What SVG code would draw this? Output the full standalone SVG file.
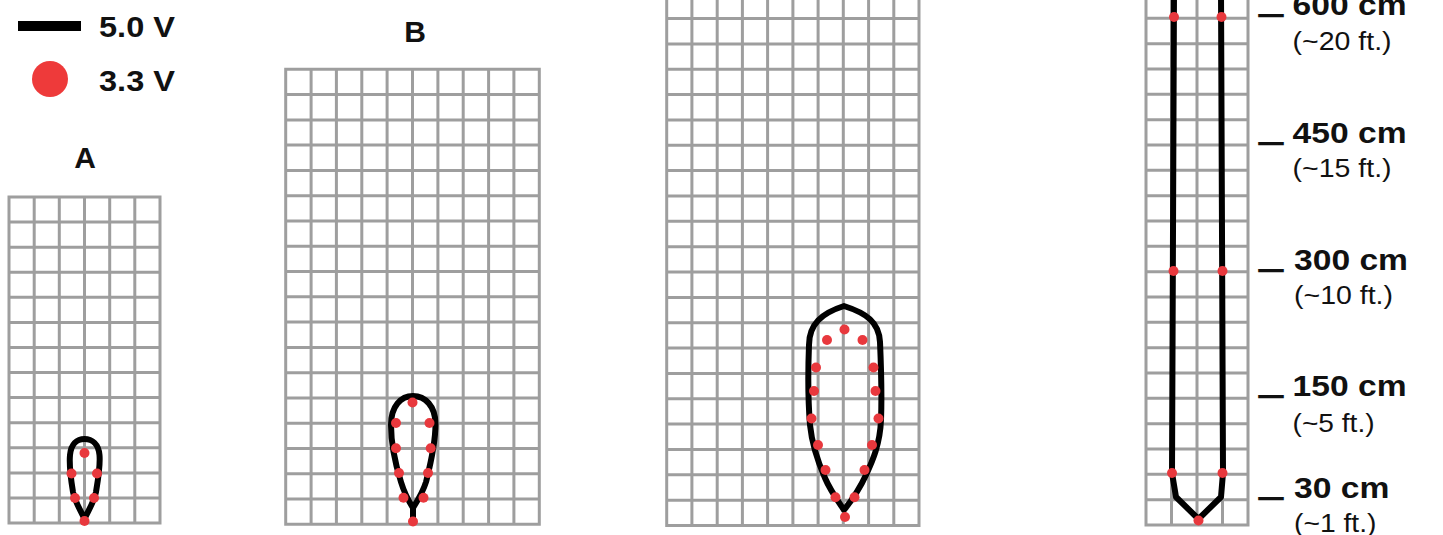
<svg xmlns="http://www.w3.org/2000/svg" width="1443" height="535" viewBox="0 0 1443 535">
<style>
.grid{fill:none;stroke:#9e9e9e;stroke-width:3;stroke-linecap:square}
.wire{fill:none;stroke:#000;stroke-width:6;stroke-linejoin:round;stroke-linecap:round}
.dot{fill:#e8383d}
.b{font-family:"Liberation Sans",Arial,sans-serif;font-weight:bold;font-size:30px;fill:#111}
.u{font-family:"Liberation Sans",Arial,sans-serif;font-weight:bold;font-size:30px;fill:#111;stroke:#111;stroke-width:2.2}
.r{font-family:"Liberation Sans",Arial,sans-serif;font-size:25px;fill:#111}
</style>
<rect width="1443" height="535" fill="#fff"/>
<g id="legend">
<rect x="18" y="21" width="63" height="10" fill="#000"/>
<text class="b" x="99" y="37" textLength="76" lengthAdjust="spacingAndGlyphs">5.0 V</text>
<circle cx="50" cy="79" r="18" fill="#ee3a3a"/>
<text class="b" x="99" y="91" textLength="76" lengthAdjust="spacingAndGlyphs">3.3 V</text>
</g>
<g id="panel-a">
<text class="b" x="85" y="168" text-anchor="middle">A</text>
<path class="grid" d="M9,197V523M34.2,197V523M59.3,197V523M84.5,197V523M109.7,197V523M134.8,197V523M160,197V523M9,197H160M9,222.1H160M9,247.2H160M9,272.2H160M9,297.3H160M9,322.4H160M9,347.5H160M9,372.6H160M9,397.6H160M9,422.7H160M9,447.8H160M9,472.9H160M9,498H160M9,523H160"/>
<path class="wire" d="M84.5,519C80,509 75,502 73,492C71,480 69,466 70,455C71,444 77,439 84.5,439C92,439 98.5,444 99.5,455C100.5,466 98,480 96,492C94,502 89,509 84.5,519Z"/>
<circle class="dot" cx="84.5" cy="453" r="5"/><circle class="dot" cx="71.5" cy="473.5" r="5"/><circle class="dot" cx="97" cy="473.5" r="5"/><circle class="dot" cx="75" cy="498" r="5"/><circle class="dot" cx="94" cy="498" r="5"/><circle class="dot" cx="84.5" cy="521" r="5"/>
</g>
<g id="panel-b">
<text class="b" x="415" y="42" text-anchor="middle">B</text>
<path class="grid" d="M285.7,69.3V524.3M311.1,69.3V524.3M336.4,69.3V524.3M361.8,69.3V524.3M387.1,69.3V524.3M412.5,69.3V524.3M437.9,69.3V524.3M463.2,69.3V524.3M488.6,69.3V524.3M513.9,69.3V524.3M539.3,69.3V524.3M285.7,69.3H539.3M285.7,94.6H539.3M285.7,119.9H539.3M285.7,145.1H539.3M285.7,170.4H539.3M285.7,195.7H539.3M285.7,221H539.3M285.7,246.3H539.3M285.7,271.5H539.3M285.7,296.8H539.3M285.7,322.1H539.3M285.7,347.4H539.3M285.7,372.7H539.3M285.7,397.9H539.3M285.7,423.2H539.3M285.7,448.5H539.3M285.7,473.8H539.3M285.7,499.1H539.3M285.7,524.3H539.3"/>
<path class="wire" d="M413,508C408,500 404,492 401,482C396,466 391,445 391,425C391,406 401,396 413,396C425,396 435.5,406 435.5,424C435.5,445 430,466 426,482C423,492 418,500 413,508ZM413,508V520"/>
<circle class="dot" cx="412.5" cy="402.5" r="5"/><circle class="dot" cx="396" cy="423" r="5"/><circle class="dot" cx="429.5" cy="423" r="5"/><circle class="dot" cx="396" cy="448.3" r="5"/><circle class="dot" cx="430.7" cy="448.3" r="5"/><circle class="dot" cx="399" cy="473" r="5"/><circle class="dot" cx="428" cy="473" r="5"/><circle class="dot" cx="403.5" cy="497.8" r="5"/><circle class="dot" cx="423.5" cy="497.8" r="5"/><circle class="dot" cx="413" cy="521.5" r="5"/>
</g>
<g id="panel-c">
<path class="grid" d="M666.7,-10V525.5M691.9,-10V525.5M717.2,-10V525.5M742.4,-10V525.5M767.6,-10V525.5M792.9,-10V525.5M818.1,-10V525.5M843.3,-10V525.5M868.6,-10V525.5M893.8,-10V525.5M919,-10V525.5M666.7,18.5H919M666.7,43.9H919M666.7,69.2H919M666.7,94.6H919M666.7,119.9H919M666.7,145.3H919M666.7,170.6H919M666.7,196H919M666.7,221.3H919M666.7,246.7H919M666.7,272H919M666.7,297.4H919M666.7,322.7H919M666.7,348.1H919M666.7,373.4H919M666.7,398.8H919M666.7,424.1H919M666.7,449.5H919M666.7,474.8H919M666.7,500.2H919M666.7,525.5H919"/>
<path class="wire" d="M844,510C838,501 830,490 825,478C818,462 812,445 810,425C808,400 808,370 809,345C809,324 822,313 844,306C866,313 879,322 880,342C881,365 882,395 881,420C880,445 872,462 866,475C860,488 852,500 844,510Z"/>
<circle class="dot" cx="844.5" cy="329.5" r="5"/><circle class="dot" cx="827" cy="340" r="5"/><circle class="dot" cx="862.5" cy="340" r="5"/><circle class="dot" cx="816" cy="367.5" r="5"/><circle class="dot" cx="873.5" cy="367.5" r="5"/><circle class="dot" cx="814" cy="391" r="5"/><circle class="dot" cx="875.5" cy="391" r="5"/><circle class="dot" cx="811.5" cy="418.5" r="5"/><circle class="dot" cx="878.5" cy="418.5" r="5"/><circle class="dot" cx="818" cy="445" r="5"/><circle class="dot" cx="872" cy="445" r="5"/><circle class="dot" cx="825.5" cy="470" r="5"/><circle class="dot" cx="864.5" cy="470" r="5"/><circle class="dot" cx="835.5" cy="497.3" r="5"/><circle class="dot" cx="854.5" cy="497.3" r="5"/><circle class="dot" cx="845" cy="517" r="5"/>
</g>
<g id="panel-d">
<path class="grid" d="M1146,-10V525M1171.5,-10V525M1197,-10V525M1222.5,-10V525M1248,-10V525M1146,18.3H1248M1146,43.7H1248M1146,69H1248M1146,94.3H1248M1146,119.7H1248M1146,145H1248M1146,170.3H1248M1146,195.7H1248M1146,221H1248M1146,246.3H1248M1146,271.7H1248M1146,297H1248M1146,322.3H1248M1146,347.7H1248M1146,373H1248M1146,398.3H1248M1146,423.7H1248M1146,449H1248M1146,474.3H1248M1146,499.7H1248M1146,525H1248"/>
<path class="wire" d="M1174,-10L1172,473L1176,497L1198.5,519L1221,497L1223,473L1221,-10" stroke-width="6.5"/>
<circle class="dot" cx="1174" cy="17" r="5"/><circle class="dot" cx="1221.5" cy="17" r="5"/><circle class="dot" cx="1173.5" cy="271" r="5"/><circle class="dot" cx="1222.5" cy="271" r="5"/><circle class="dot" cx="1172" cy="473" r="5"/><circle class="dot" cx="1222.5" cy="473" r="5"/><circle class="dot" cx="1198.5" cy="520.5" r="5"/>
</g>
<g id="scale">
<text class="u" x="1260" y="13.4" textLength="22" lengthAdjust="spacingAndGlyphs">_</text>
<text class="b" x="1292.6" y="15.4" textLength="114" lengthAdjust="spacingAndGlyphs">600 cm</text>
<text class="r" x="1292.6" y="49.5" textLength="99" lengthAdjust="spacingAndGlyphs">(~20 ft.)</text>
<text class="u" x="1260" y="140.6" textLength="22" lengthAdjust="spacingAndGlyphs">_</text>
<text class="b" x="1292.6" y="142.6" textLength="114" lengthAdjust="spacingAndGlyphs">450 cm</text>
<text class="r" x="1292.6" y="177.4" textLength="99" lengthAdjust="spacingAndGlyphs">(~15 ft.)</text>
<text class="u" x="1260" y="267.5" textLength="22" lengthAdjust="spacingAndGlyphs">_</text>
<text class="b" x="1294" y="269.5" textLength="114" lengthAdjust="spacingAndGlyphs">300 cm</text>
<text class="r" x="1294" y="303.6" textLength="99" lengthAdjust="spacingAndGlyphs">(~10 ft.)</text>
<text class="u" x="1260" y="393.8" textLength="22" lengthAdjust="spacingAndGlyphs">_</text>
<text class="b" x="1292.6" y="395.8" textLength="114" lengthAdjust="spacingAndGlyphs">150 cm</text>
<text class="r" x="1292.6" y="431.6" textLength="82" lengthAdjust="spacingAndGlyphs">(~5 ft.)</text>
<text class="u" x="1260" y="496" textLength="22" lengthAdjust="spacingAndGlyphs">_</text>
<text class="b" x="1294" y="498" textLength="95.5" lengthAdjust="spacingAndGlyphs">30 cm</text>
<text class="r" x="1294" y="532" textLength="82.5" lengthAdjust="spacingAndGlyphs">(~1 ft.)</text>
</g>
</svg>
